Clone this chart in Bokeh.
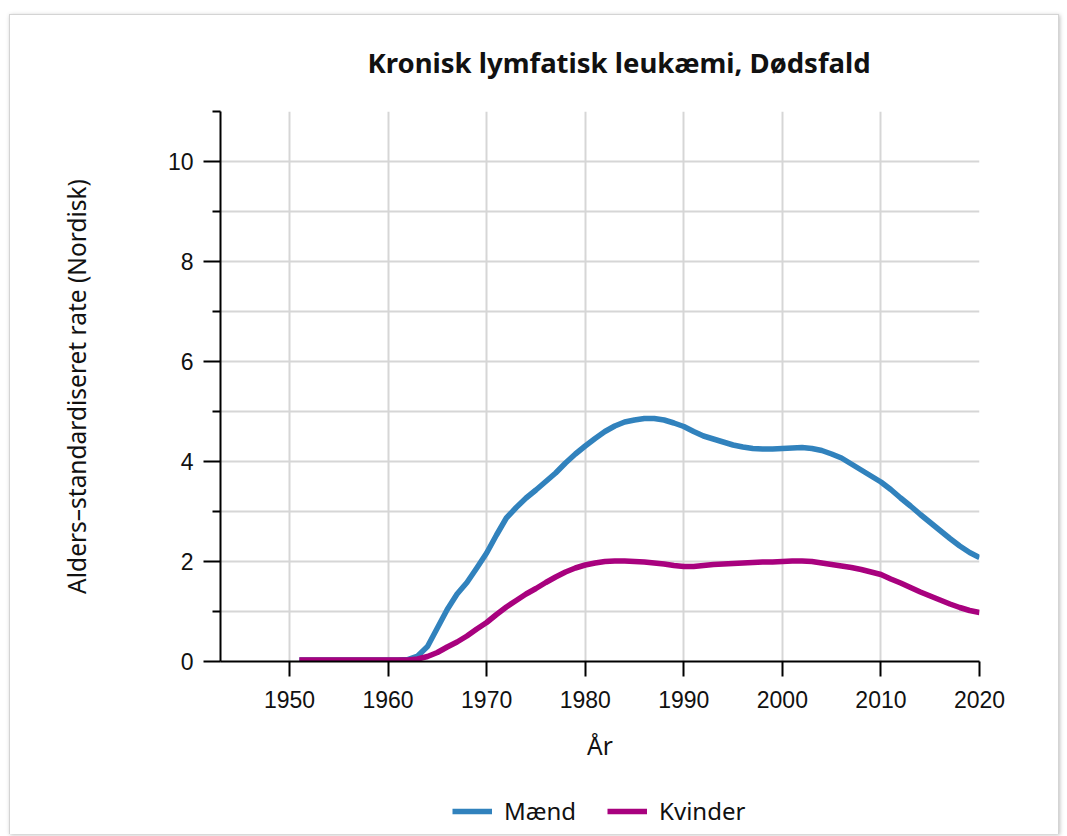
from bokeh.plotting import figure
from bokeh.layouts import column
from bokeh.models import Range1d, FixedTicker, Legend, LegendItem
from bokeh.embed import file_html
from bokeh.resources import INLINE

# ---- data ----
years = list(range(1951, 2021))
maend = [0.03] * 11 + [
    0.04, 0.11, 0.30, 0.67, 1.04, 1.35, 1.58, 1.87, 2.17, 2.53,
    2.87, 3.08, 3.27, 3.43, 3.60, 3.77, 3.97, 4.15, 4.31, 4.46,
    4.60, 4.71, 4.79, 4.83, 4.86, 4.86, 4.83, 4.77, 4.70, 4.60,
    4.51, 4.45, 4.39, 4.33, 4.29, 4.26, 4.25, 4.25, 4.26, 4.27,
    4.28, 4.26, 4.22, 4.15, 4.07, 3.95, 3.83, 3.71, 3.59, 3.44,
    3.27, 3.11, 2.94, 2.78, 2.62, 2.46, 2.31, 2.18, 2.08]
kvinder = [0.03] * 11 + [
    0.03, 0.05, 0.10, 0.18, 0.29, 0.39, 0.51, 0.65, 0.78, 0.94,
    1.09, 1.22, 1.35, 1.46, 1.58, 1.69, 1.79, 1.87, 1.93, 1.97,
    2.00, 2.01, 2.01, 2.00, 1.99, 1.97, 1.95, 1.92, 1.90, 1.90,
    1.92, 1.94, 1.95, 1.96, 1.97, 1.98, 1.99, 1.99, 2.00, 2.01,
    2.01, 2.00, 1.97, 1.94, 1.91, 1.88, 1.84, 1.79, 1.74, 1.65,
    1.57, 1.48, 1.39, 1.31, 1.23, 1.15, 1.08, 1.02, 0.98]
x_ticks = [1950, 1960, 1970, 1980, 1990, 2000, 2010, 2020]
y_ticks = [0, 2, 4, 6, 8, 10]
y_minor = [1, 3, 5, 7, 9, 11]
series_names = ["Mænd", "Kvinder"]
series_colors = ["#3182bd", "#a8017e"]
title_text = "Kronisk lymfatisk leukæmi, Dødsfald"
x_label = "År"
y_label = "Alders\u2013standardiseret rate (Nordisk)"

p = figure(frame_width=759, frame_height=550, output_backend="svg",
           toolbar_location=None,
           x_range=Range1d(1943, 2020), y_range=Range1d(0, 11),
           min_border_left=210, min_border_right=79, min_border_top=96,
           min_border_bottom=110)
p.outline_line_color = None
p.background_fill_color = "white"
p.border_fill_color = "white"

p.title.text = title_text
p.title.text_font = "Noto Sans"
p.title.text_font_style = "bold"
p.title.text_font_size = "27.5px"
p.title.text_color = "#111111"
p.title.align = "left"
p.title.offset = 147
p.title.standoff = 57
p.title.vertical_align = "top"

r1 = p.line(years, maend, line_width=5.5, color=series_colors[0], line_join="round")
r2 = p.line(years, kvinder, line_width=5.5, color=series_colors[1], line_join="round")

xa = p.xaxis[0]
xa.ticker = FixedTicker(ticks=x_ticks, minor_ticks=[])
xa.major_tick_out = 15
xa.major_tick_in = 0
xa.minor_tick_out = 0
xa.minor_tick_in = 0
xa.axis_line_width = 2
xa.major_tick_line_width = 2
xa.major_label_text_font = "Liberation Sans"
xa.major_label_text_font_size = "23px"
xa.major_label_text_color = "#111111"
xa.major_label_standoff = 14
xa.axis_label = x_label
xa.axis_label_text_font = "Noto Sans"
xa.axis_label_text_font_style = "normal"
xa.axis_label_text_font_size = "24.5px"
xa.axis_label_text_color = "#111111"
xa.axis_label_standoff = 18

ya = p.yaxis[0]
ya.ticker = FixedTicker(ticks=y_ticks, minor_ticks=y_minor)
ya.major_tick_out = 17
ya.major_tick_in = 0
ya.minor_tick_out = 8
ya.minor_tick_in = 0
ya.axis_line_width = 2
ya.major_tick_line_width = 2
ya.minor_tick_line_width = 2
ya.major_label_text_font = "Liberation Sans"
ya.major_label_text_font_size = "23px"
ya.major_label_text_color = "#111111"
ya.major_label_standoff = 10
ya.axis_label = y_label
ya.axis_label_text_font = "Noto Sans"
ya.axis_label_text_font_style = "normal"
ya.axis_label_text_font_size = "24.5px"
ya.axis_label_text_color = "#111111"
ya.axis_label_standoff = 72

p.xgrid.ticker = FixedTicker(ticks=x_ticks)
p.xgrid.grid_line_color = "#d6d6d6"
p.xgrid.grid_line_width = 2
p.ygrid.ticker = FixedTicker(ticks=y_ticks, minor_ticks=y_minor)
p.ygrid.grid_line_color = "#d6d6d6"
p.ygrid.grid_line_width = 2
p.ygrid.minor_grid_line_color = "#d6d6d6"
p.ygrid.minor_grid_line_width = 2

# legend strip below the chart; its lines use the same series but lie outside
# this strip's (tiny) ranges, so only the legend itself is visible
pl = figure(frame_width=1048, frame_height=63, output_backend="svg",
            toolbar_location=None, x_axis_type=None, y_axis_type=None,
            x_range=Range1d(0, 1), y_range=Range1d(0, 1),
            min_border_left=0, min_border_right=0, min_border_top=0,
            min_border_bottom=0)
pl.outline_line_color = None
pl.xgrid.visible = False
pl.ygrid.visible = False
d1 = pl.line(years, maend, line_width=5.5, color=series_colors[0])
d2 = pl.line(years, kvinder, line_width=5.5, color=series_colors[1])
legend = Legend(items=[LegendItem(label=series_names[0], renderers=[d1]),
                       LegendItem(label=series_names[1], renderers=[d2])],
                orientation="horizontal", location=(442, 7),
                label_text_font="Noto Sans", label_text_font_size="24px",
                label_text_color="#111111",
                glyph_width=40, glyph_height=30, label_height=30,
                label_standoff=12, spacing=31,
                border_line_color=None, background_fill_alpha=0,
                margin=0, padding=5)
pl.add_layout(legend, "center")

layout = column(p, pl, spacing=0,
                styles={"border-left": "1px solid #d4d4d4",
                        "border-right": "1px solid #d4d4d4",
                        "border-top": "1px solid #d4d4d4",
                        "box-shadow": "1px 1px 4px rgba(0,0,0,0.25)",
                        "margin-left": "9px", "margin-top": "14px",
                        "background-color": "white"})

open("out.html", "w").write(file_html(layout, INLINE))
